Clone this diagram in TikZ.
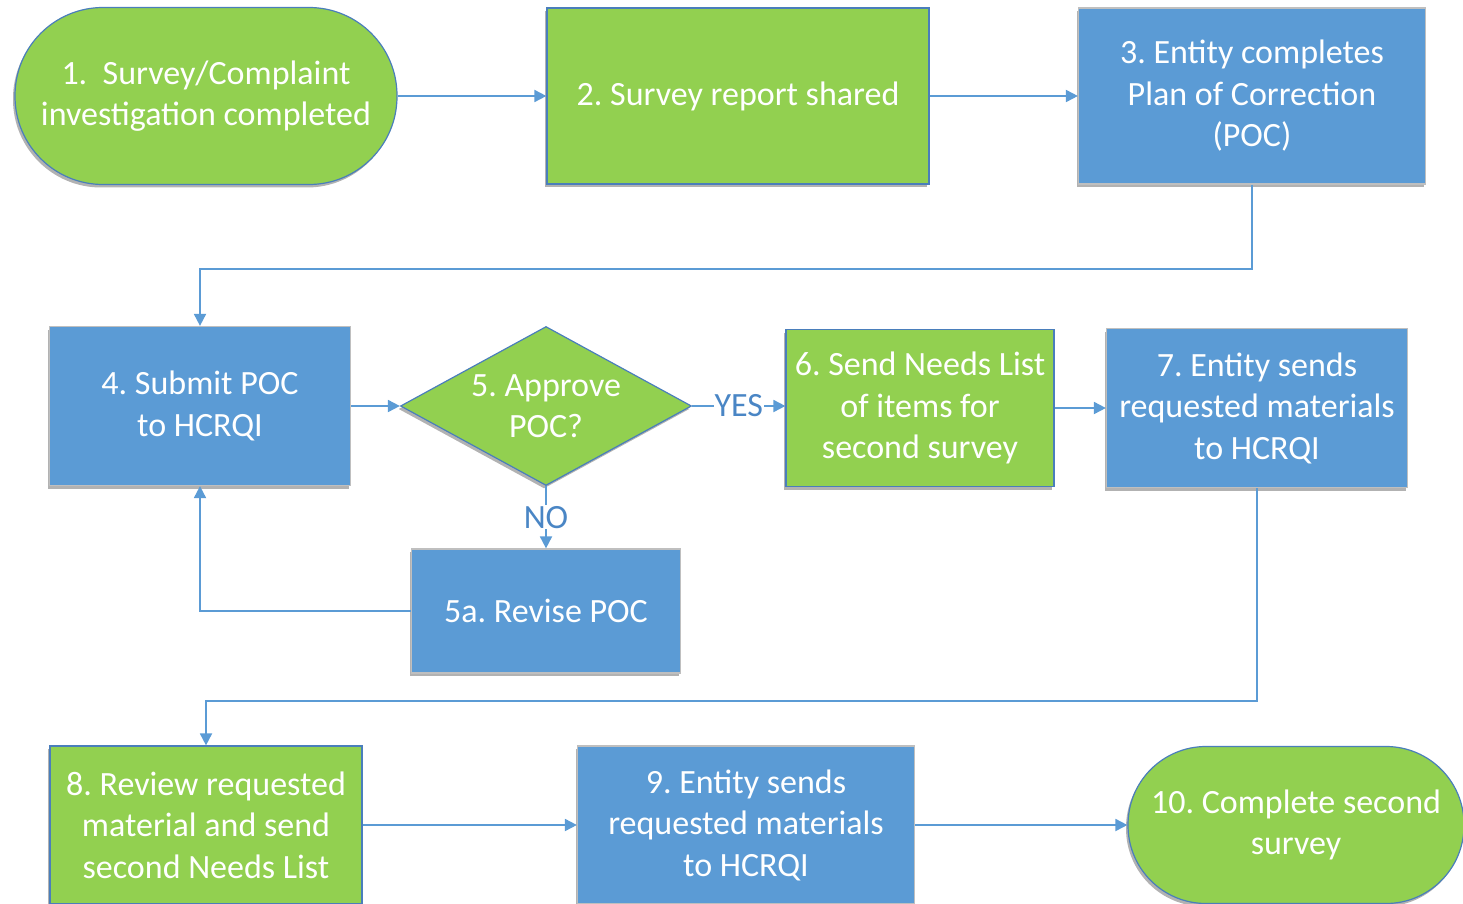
\documentclass[tikz,border=0pt]{standalone}
\usepackage{fontspec}
\setmainfont{Carlito}
\usetikzlibrary{shapes.geometric,arrows.meta,shadows}
\definecolor{gfill}{HTML}{92D050}
\definecolor{bfill}{HTML}{5B9BD5}
\definecolor{gline}{HTML}{4A7EBB}
\definecolor{bline}{HTML}{BFBFBF}
\definecolor{lcol}{HTML}{5B9BD5}
\definecolor{lab}{HTML}{4A86C5}
\begin{document}
\frenchspacing
\begin{tikzpicture}[x=1pt,y=-1pt,
  base/.style={font=\fontsize{34}{41.5}\selectfont, text=white, align=center, inner sep=0pt,
    line width=1.2pt, drop shadow={shadow xshift=-2pt, shadow yshift=-3pt, opacity=0.3, fill=black}},
  gbox/.style={base, rectangle, fill=gfill, draw=gline},
  bbox/.style={base, rectangle, fill=bfill, draw=bline},
  term/.style={base, rectangle, fill=gfill, draw=gline, rounded corners=#1},
  dia/.style={base, diamond, fill=gfill, draw=gline},
  txt/.style={font=\fontsize{34}{41.5}\selectfont, text=white, align=center, inner sep=0pt},
  conn/.style={draw=lcol, line width=1.8pt, -{Triangle[length=12pt,width=12pt]}},
  lbl/.style={font=\fontsize{34}{38}\selectfont, text=lab, fill=white, inner sep=1pt}
]
\useasboundingbox (0,0) rectangle (1463,904);

\node[term=88pt, minimum width=382pt, minimum height=177pt] (n1) at (206,96)
  {1.\ \ Survey/Complaint\\investigation completed};
\node[gbox, minimum width=382pt, minimum height=176pt] (n2) at (738,96) {2. Survey report shared};
\node[bbox, minimum width=347pt, minimum height=176pt] (n3) at (1252,96)
  {3. Entity completes\\Plan of Correction\\(POC)};

\node[bbox, minimum width=301pt, minimum height=159pt] (n4) at (200,406) {4. Submit POC\\to HCRQI};
\node[dia, minimum width=291pt, minimum height=159pt, aspect=1.83] (n5) at (546,406) {};
\node[txt] at (546,406) {5. Approve\\POC?};
\node[gbox, minimum width=268pt, minimum height=157pt] (n6) at (920,408)
  {6. Send Needs List\\of items for\\second survey};
\node[bbox, minimum width=301pt, minimum height=159pt] (n7) at (1257,408)
  {7. Entity sends\\requested materials\\to HCRQI};
\node[bbox, minimum width=269pt, minimum height=124pt] (n5a) at (546,611) {5a. Revise POC};

\node[gbox, minimum width=312pt, minimum height=158pt] (n8) at (206,825)
  {8. Review requested\\material and send\\second Needs List};
\node[bbox, minimum width=337pt, minimum height=158pt] (n9) at (746,825)
  {9. Entity sends\\requested materials\\to HCRQI};
\node[term=78pt, minimum width=336pt, minimum height=157pt] (n10) at (1296,825)
  {10. Complete second\\survey};

\draw[conn] (n1.east) -- (n2.west);
\draw[conn] (n2.east) -- (n3.west);
\draw[conn] (n3.south) -- ++(0,84) -| (n4.north);
\draw[conn] (n4.east) -- (n5.west);
\draw[conn] (n5.east) -- node[lbl] {YES} (n6.west |- n5.east);
\draw[conn] (n5.south) -- node[lbl, pos=0.5] {NO} (n5a.north);
\draw[conn] (n5a.west) -| (n4.south);
\draw[conn] (n6.east) -- (n7.west |- n6.east);
\draw[conn] (n7.south) -- ++(0,213) -| (n8.north);
\draw[conn] (n8.east) -- (n9.west);
\draw[conn] (n9.east) -- (n10.west);
\end{tikzpicture}
\end{document}
